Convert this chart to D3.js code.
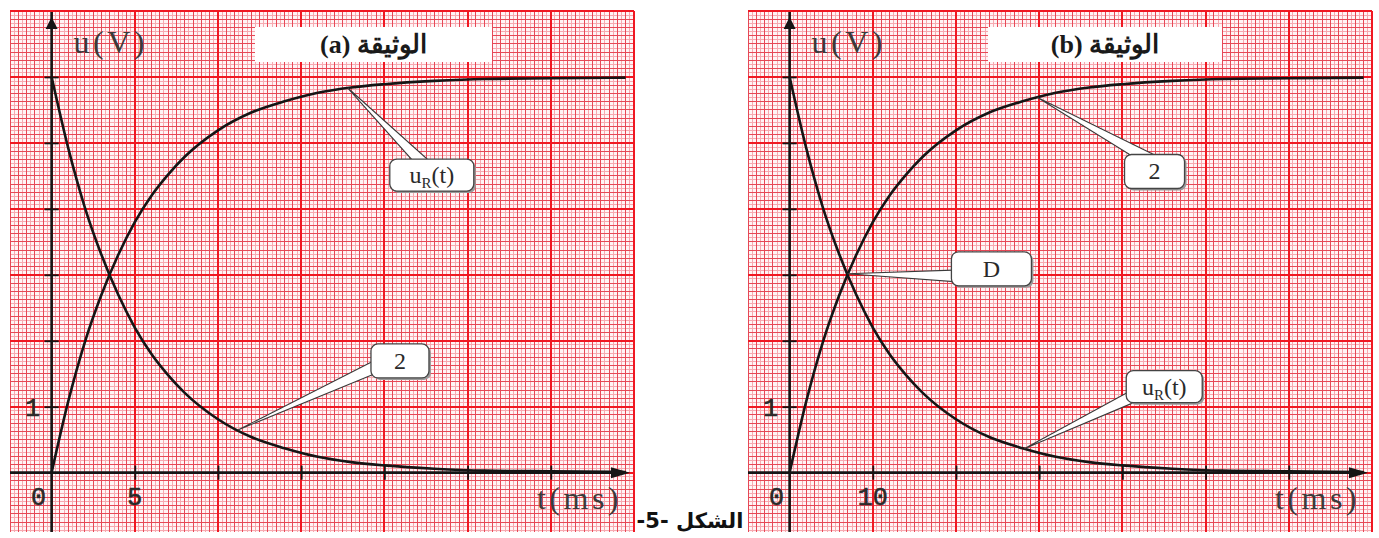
<!DOCTYPE html>
<html>
<head>
<meta charset="utf-8">
<script src="https://cdn.jsdelivr.net/npm/d3@7"></script>
<style>
  html, body { margin: 0; padding: 0; background: #fff; overflow: hidden; }
  svg { display: block; }
</style>
</head>
<body>
<svg id="chart" width="1379" height="538"></svg>
<script>
// ---- Data: document (a), t in ms, u in V ----
const timeA   = [0, 1, 2, 3, 4, 5, 6, 7, 8, 10, 12, 14, 16, 18, 20, 23, 26, 30, 34.5];
const curve2A = [6.00, 4.92, 4.02, 3.30, 2.70, 2.20, 1.80, 1.48, 1.21, 0.81, 0.54, 0.37, 0.24, 0.16, 0.11, 0.06, 0.03, 0.02, 0.01];
const uRA     = [0.00, 1.08, 1.98, 2.70, 3.30, 3.80, 4.20, 4.52, 4.79, 5.19, 5.46, 5.63, 5.76, 5.84, 5.89, 5.94, 5.97, 5.98, 5.99];

// ---- Data: document (b) ----
const timeB   = [0, 2, 4, 6, 8, 10, 12, 14, 16, 20, 24, 28, 32, 36, 40, 46, 52, 60, 69];
const curve2B = [0.00, 1.08, 1.98, 2.70, 3.30, 3.80, 4.20, 4.52, 4.79, 5.19, 5.46, 5.63, 5.76, 5.84, 5.89, 5.94, 5.97, 5.98, 5.99];
const uRB     = [6.00, 4.92, 4.02, 3.30, 2.70, 2.20, 1.80, 1.48, 1.21, 0.81, 0.54, 0.37, 0.24, 0.16, 0.11, 0.06, 0.03, 0.02, 0.01];

// ---- Axis ticks and labels ----
const xTicksA = [5, 10, 15, 20, 25, 30];
const xTicksB = [10, 20, 30, 40, 50, 60];
const yTicks  = [1, 2, 3, 4, 5, 6];
const xLabelsA = ["0", "5"];
const xLabelValuesA = [0, 5];
const xLabelsB = ["0", "10"];
const xLabelValuesB = [0, 10];
const yLabels = ["1"];
const yLabelValues = [1];

const titleA = "(a) الوثيقة";
const titleB = "(b) الوثيقة";
const caption = "-5- الشكل";

const svg = d3.select("#chart");

// grid colours
const FINE = "#f7a9b0", MID = "#e64856", MAJOR = "#f01822", INK = "#151515";

function interpAt(ts, vs, t) {
  const i = Math.max(1, Math.min(ts.length - 1, d3.bisectLeft(ts, t)));
  const k = (t - ts[i - 1]) / (ts[i] - ts[i - 1]);
  return vs[i - 1] + k * (vs[i] - vs[i - 1]);
}

function drawPanel(cfg) {
  const g = svg.append("g");
  const x = d3.scaleLinear().domain(cfg.xDomain).range(cfg.xRange);
  const y = d3.scaleLinear().domain([-0.9, 7]).range([532, 11]);
  const [x0, x1] = cfg.xRange, [y0, y1] = [532, 11];
  const major = cfg.major;

  // paper background
  g.append("rect").attr("x", x0).attr("y", y1).attr("width", x1 - x0).attr("height", y0 - y1)
    .attr("fill", "#fff4f5");

  // millimetre grid
  const gridLayer = (vals, isX, color, w) => {
    g.append("g").selectAll("line").data(vals).join("line")
      .attr("x1", d => isX ? x(d) : x0).attr("x2", d => isX ? x(d) : x1)
      .attr("y1", d => isX ? y1 : y(d)).attr("y2", d => isX ? y0 : y(d))
      .attr("stroke", color).attr("stroke-width", w).attr("shape-rendering", "crispEdges");
  };
  const xd = cfg.xDomain;
  gridLayer(d3.range(xd[0], xd[1] + 1e-6, major / 20), true, FINE, 1);
  gridLayer(d3.range(-0.875, 7 + 1e-6, 1 / 16), false, FINE, 1);
  gridLayer(d3.range(xd[0], xd[1] + 1e-6, major / 10), true, MID, 1);
  gridLayer(d3.range(-0.75, 7 + 1e-6, 1 / 8), false, MID, 1);
  gridLayer(d3.range(xd[0] + major / 2, xd[1] + 1e-6, major), true, MAJOR, 2);
  gridLayer(d3.range(0, 7 + 1e-6, 1), false, MAJOR, 2);

  // axes
  const ox = x(0), oy = y(0);
  g.append("line").attr("x1", x0).attr("x2", x1 - 8).attr("y1", oy).attr("y2", oy)
    .attr("stroke", INK).attr("stroke-width", 2.6);
  g.append("line").attr("x1", ox).attr("x2", ox).attr("y1", y0).attr("y2", y1 + 1)
    .attr("stroke", INK).attr("stroke-width", 2.6);
  g.append("path").attr("d", `M${x1 - 4},${oy} L${x1 - 23},${oy - 5.5} L${x1 - 23},${oy + 5.5} Z`).attr("fill", INK);
  g.append("path").attr("d", `M${ox},${y1 + 6} L${ox - 6},${y1 + 18} L${ox + 6},${y1 + 18} Z`).attr("fill", INK);

  // tick marks crossing the axes
  g.append("g").attr("transform", `translate(0,${oy - 7})`)
    .call(d3.axisBottom(x).tickValues(cfg.xTicks).tickSize(14).tickFormat(""))
    .call(a => a.select(".domain").remove())
    .call(a => a.selectAll("line").attr("stroke", INK).attr("stroke-width", 1.8));
  g.append("g").attr("transform", `translate(${ox + 7},0)`)
    .call(d3.axisLeft(y).tickValues(yTicks).tickSize(14).tickFormat(""))
    .call(a => a.select(".domain").remove())
    .call(a => a.selectAll("line").attr("stroke", INK).attr("stroke-width", 1.8));

  // tick labels
  const numFont = "'Liberation Mono', 'Courier New', monospace";
  g.append("g").selectAll("text").data(cfg.xLabelValues).join("text")
    .attr("x", (d, i) => d === 0 ? x(d) - 13 : x(d))
    .attr("y", oy + 32)
    .attr("text-anchor", "middle").attr("font-family", numFont).attr("font-size", 25)
    .attr("fill", "#2a2a2a").attr("stroke", "#2a2a2a").attr("stroke-width", 0.6)
    .text((d, i) => cfg.xLabels[i]);
  g.append("g").selectAll("text").data(yLabelValues).join("text")
    .attr("x", ox - 19).attr("y", d => y(d) + 9)
    .attr("text-anchor", "middle").attr("font-family", numFont).attr("font-size", 25)
    .attr("fill", "#2a2a2a").attr("stroke", "#2a2a2a").attr("stroke-width", 0.6)
    .text((d, i) => yLabels[i]);

  // axis names
  const serif = "'Liberation Serif', 'Times New Roman', serif";
  g.append("text").attr("x", ox + 22).attr("y", 53).attr("font-family", serif)
    .attr("font-size", 32).attr("letter-spacing", 3.5).attr("fill", "#3a3a3a").text("u(V)");
  g.append("text").attr("x", x1 - 12).attr("y", oy + 36).attr("text-anchor", "end")
    .attr("font-family", serif).attr("font-size", 32).attr("letter-spacing", 3.5)
    .attr("fill", "#3a3a3a").text("t(ms)");

  // title box
  g.append("rect").attr("x", cfg.titleBox[0]).attr("y", 27).attr("width", cfg.titleBox[1])
    .attr("height", 35).attr("fill", "#fff");
  g.append("text").attr("x", cfg.titleBox[0] + cfg.titleBox[1] / 2).attr("y", 53)
    .attr("text-anchor", "middle").attr("font-family", serif).attr("font-weight", "bold")
    .attr("font-size", 26).attr("fill", "#1a1a1a").text(cfg.title);

  // curves
  const line = d3.line().x(d => x(d[0])).y(d => y(d[1])).curve(d3.curveMonotoneX);
  cfg.series.forEach(s => {
    g.append("path").datum(d3.zip(cfg.time, s))
      .attr("d", line).attr("fill", "none").attr("stroke", INK).attr("stroke-width", 2.6)
      .attr("stroke-linejoin", "round");
  });

  // callouts pointing at the curves
  cfg.callouts.forEach(c => {
    const ax = x(c.t), ay = y(interpAt(cfg.time, c.series, c.t));
    const bx = ax + c.dx, by = ay + c.dy;
    const ex = bx + c.ex, ey = by + c.ey;
    const L = Math.hypot(ex - ax, ey - ay);
    const ux = (ex - ax) / L, uy = (ey - ay) / L, px = -uy, py = ux;
    const cx = ex + ux * 16, cy = ey + uy * 16, hw = 6.5;
    g.append("path")
      .attr("d", `M${ax},${ay} L${cx + px * hw},${cy + py * hw} L${cx - px * hw},${cy - py * hw} Z`)
      .attr("fill", "#fff").attr("stroke", "#3a3a3a").attr("stroke-width", 1.1)
      .attr("stroke-linejoin", "miter");
    g.append("rect").attr("x", bx - c.w / 2 + 2).attr("y", by - c.h / 2 + 2)
      .attr("width", c.w).attr("height", c.h).attr("rx", 7).attr("fill", "#9a9a9a");
    g.append("rect").attr("x", bx - c.w / 2).attr("y", by - c.h / 2)
      .attr("width", c.w).attr("height", c.h).attr("rx", 7)
      .attr("fill", "#fff").attr("stroke", "#444").attr("stroke-width", 1.3);
    const t = g.append("text").attr("x", bx).attr("y", by + 8).attr("text-anchor", "middle")
      .attr("font-family", serif).attr("font-size", 24).attr("fill", "#2a2a2a");
    if (c.label === "uR") {
      t.append("tspan").text("u");
      t.append("tspan").attr("font-size", 15).attr("dy", 5).text("R");
      t.append("tspan").attr("dy", -5).text("(t)");
    } else {
      t.text(c.label);
    }
  });
}

drawPanel({
  xDomain: [-2.5, 35], xRange: [10, 634], major: 5,
  xTicks: xTicksA, xLabels: xLabelsA, xLabelValues: xLabelValuesA,
  title: titleA, titleBox: [255, 237],
  time: timeA, series: [curve2A, uRA],
  callouts: [
    { label: "uR", series: uRA, t: 17.8, dx: 84, dy: 87, w: 84, h: 32, ex: -13, ey: -16 },
    { label: "2", series: curve2A, t: 11.2, dx: 162, dy: -69, w: 58, h: 34, ex: -29, ey: 8 }
  ]
});

drawPanel({
  xDomain: [-5, 70], xRange: [748, 1372], major: 10,
  xTicks: xTicksB, xLabels: xLabelsB, xLabelValues: xLabelValuesB,
  title: titleB, titleBox: [988, 234],
  time: timeB, series: [curve2B, uRB],
  callouts: [
    { label: "2", series: curve2B, t: 29.8, dx: 117, dy: 74, w: 60, h: 34, ex: -14, ey: -17 },
    { label: "D", series: uRB, t: 6.95, dx: 144, dy: -5, w: 80, h: 34, ex: -40, ey: 7 },
    { label: "uR", series: uRB, t: 28.2, dx: 140, dy: -62, w: 76, h: 32, ex: -36, ey: 12 }
  ]
});

// figure caption
svg.append("text").attr("x", 690).attr("y", 528).attr("text-anchor", "middle")
  .attr("font-family", "'DejaVu Sans', sans-serif").attr("font-weight", "bold")
  .attr("font-size", 21).attr("fill", "#111").text(caption);
</script>
</body>
</html>
